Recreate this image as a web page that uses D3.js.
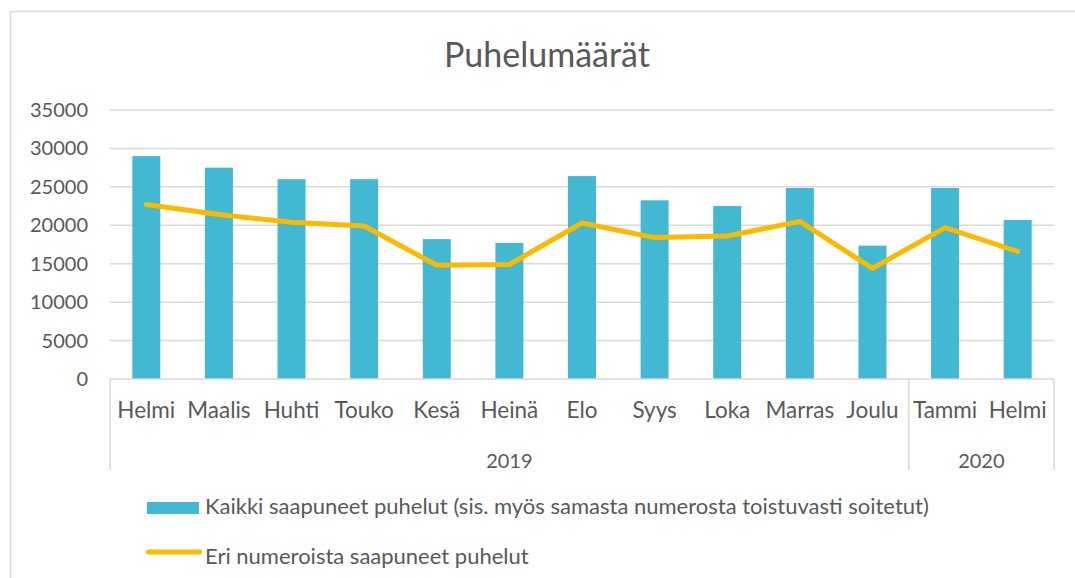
<!DOCTYPE html>
<html lang="fi">
<head>
<meta charset="UTF-8">
<title>Puhelumäärät</title>
<script src="https://d3js.org/d3.v7.min.js"></script>
<style>
    body { margin: 0; background: #fff; }
    svg { display: block; font-family: Lato, "Open Sans", sans-serif; }
    .grid line { stroke: #d9d9d9; stroke-width: 1.5; }
    .lbl { fill: #595959; }
</style>
</head>
<body>
<div id="chart"></div>
<script>
    const months = ["Helmi", "Maalis", "Huhti", "Touko", "Kesä", "Heinä", "Elo", "Syys", "Loka", "Marras", "Joulu", "Tammi", "Helmi"];
    const years = [
        { label: "2019", from: 0, to: 10 },
        { label: "2020", from: 11, to: 12 }
    ];
    const allCalls = [29000, 27500, 26000, 26000, 18200, 17700, 26400, 23250, 22500, 24850, 17350, 24850, 20700];
    const uniqueCalls = [22700, 21400, 20400, 19900, 14800, 14900, 20300, 18400, 18600, 20500, 14400, 19700, 16600];
    const yTicks = [0, 5000, 10000, 15000, 20000, 25000, 30000, 35000];
    const legendLabels = ["Kaikki saapuneet puhelut (sis. myös samasta numerosta toistuvasti soitetut)", "Eri numeroista saapuneet puhelut"];

    const width = 1075, height = 578;
    const plotLeft = 110, plotRight = 1054, plotTop = 110, plotBottom = 379;
    const barColor = "#42b8d3", lineColor = "#fbb900";

    const svg = d3.select("#chart").append("svg")
        .attr("width", width).attr("height", height);

    // chart border
    svg.append("rect")
        .attr("x", 10.5).attr("y", 11.5)
        .attr("width", width + 10).attr("height", height + 10)
        .attr("fill", "none").attr("stroke", "#d9d9d9").attr("stroke-width", 1.5);

    svg.append("text").attr("class", "lbl")
        .attr("x", 547).attr("y", 67)
        .attr("text-anchor", "middle")
        .style("font-size", "34px")
        .text("Puhelumäärät");

    const x = d3.scaleBand().domain(d3.range(months.length)).range([plotLeft, plotRight]);
    const y = d3.scaleLinear().domain([0, 35000]).range([plotBottom, plotTop]);

    // gridlines
    svg.append("g").attr("class", "grid")
        .selectAll("line").data(yTicks.filter(d => d > 0)).enter().append("line")
        .attr("x1", plotLeft).attr("x2", plotRight)
        .attr("y1", d => y(d)).attr("y2", d => y(d));

    // y labels
    svg.append("g").selectAll("text").data(yTicks).enter().append("text")
        .attr("class", "lbl")
        .attr("x", 88).attr("y", d => y(d) + 7)
        .attr("text-anchor", "end")
        .style("font-size", "20px")
        .text(d => d);

    // bars
    const bw = 28;
    svg.append("g").selectAll("rect").data(allCalls).enter().append("rect")
        .attr("x", (d, i) => x(i) + x.bandwidth() / 2 - bw / 2)
        .attr("y", d => y(d))
        .attr("width", bw)
        .attr("height", d => y(0) - y(d))
        .attr("fill", barColor);

    // line
    const line = d3.line()
        .x((d, i) => x(i) + x.bandwidth() / 2)
        .y(d => y(d));
    svg.append("path").datum(uniqueCalls)
        .attr("d", line)
        .attr("fill", "none")
        .attr("stroke", lineColor)
        .attr("stroke-width", 5)
        .attr("stroke-linejoin", "round")
        .attr("stroke-linecap", "round");

    // category axis
    const axisColor = "#d9d9d9";
    svg.append("line")
        .attr("x1", plotLeft).attr("x2", plotRight)
        .attr("y1", plotBottom).attr("y2", plotBottom)
        .attr("stroke", axisColor).attr("stroke-width", 1.5);

    const dividers = [plotLeft].concat(years.map(yr => x(yr.to) + x.bandwidth()));
    svg.append("g").selectAll("line").data(dividers).enter().append("line")
        .attr("x1", d => d).attr("x2", d => d)
        .attr("y1", plotBottom).attr("y2", 470)
        .attr("stroke", axisColor).attr("stroke-width", 1.5);

    svg.append("g").selectAll("text").data(months).enter().append("text")
        .attr("class", "lbl")
        .attr("x", (d, i) => x(i) + x.bandwidth() / 2)
        .attr("y", 418)
        .attr("text-anchor", "middle")
        .style("font-size", "22.5px")
        .text(d => d);

    svg.append("g").selectAll("text").data(years).enter().append("text")
        .attr("class", "lbl")
        .attr("x", d => (x(d.from) + x(d.to) + x.bandwidth()) / 2)
        .attr("y", 468)
        .attr("text-anchor", "middle")
        .style("font-size", "20px")
        .text(d => d.label);

    // legend
    const lg = svg.append("g");
    lg.append("rect")
        .attr("x", 147).attr("y", 502).attr("width", 52).attr("height", 12)
        .attr("fill", barColor);
    lg.append("line")
        .attr("x1", 148.5).attr("x2", 199.5).attr("y1", 552).attr("y2", 552)
        .attr("stroke", lineColor).attr("stroke-width", 5)
        .attr("stroke-linecap", "round");
    lg.selectAll("text").data(legendLabels).enter().append("text")
        .attr("class", "lbl")
        .attr("x", 205)
        .attr("y", (d, i) => 514 + i * 50)
        .style("font-size", "22px")
        .text(d => d);
</script>
</body>
</html>
